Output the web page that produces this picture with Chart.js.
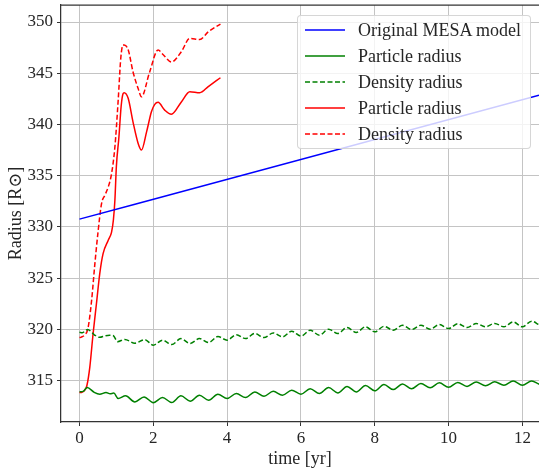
<!DOCTYPE html>
<html>
<head>
<meta charset="utf-8">
<script src="https://cdn.jsdelivr.net/npm/chart.js@4/dist/chart.umd.min.js"></script>
<style>
  html, body { margin: 0; padding: 0; background: #fff; }
  #wrap { position: relative; width: 539px; height: 470px; overflow: hidden; }
  #legend { position: absolute; left: 297px; top: 15px; width: 232px; height: 132px;
            background: rgba(255,255,255,0.8); border: 1px solid rgba(204,204,204,0.8);
            border-radius: 4px; font-family: "Liberation Serif", "DejaVu Serif", serif;
            font-size: 18px; color: #262626; }
  .row { position: absolute; left: 0; height: 26px; width: 100%; }
  .row svg { position: absolute; left: 6px; top: 0; }
  .row span { position: absolute; left: 60px; top: 2px; line-height: 22px; white-space: nowrap; }
</style>
</head>
<body>
<div id="wrap">
  <canvas id="c" width="539" height="470"></canvas>
  <div id="legend"></div>
</div>
<script>
// ---- data ----
const seriesLabels = ["Original MESA model", "Particle radius", "Density radius", "Particle radius", "Density radius"];

const mesaT = [0, 12.45];
const mesaR = [330.76, 342.85];

const greenPartT = [0.0, 0.1, 0.21, 0.4, 0.55, 0.72, 0.83, 0.93, 1.05, 1.25, 1.5, 1.75, 2.0, 2.25, 2.5, 2.75, 3.0, 3.25, 3.5, 3.75, 4.0, 4.25, 4.5, 4.75, 5.0, 5.25, 5.5, 5.75, 6.0, 6.25, 6.5, 6.75, 7.0, 7.25, 7.5, 7.75, 8.0, 8.25, 8.5, 8.75, 9.0, 9.25, 9.5, 9.75, 10.0, 10.25, 10.5, 10.75, 11.0, 11.25, 11.5, 11.75, 12.0, 12.25, 12.45];
const greenPartR = [313.9, 313.95, 314.32, 313.85, 313.67, 313.83, 313.72, 313.78, 313.25, 313.51, 312.92, 313.41, 312.84, 313.35, 312.86, 313.51, 312.99, 313.57, 313.09, 313.67, 313.25, 313.74, 313.35, 313.9, 313.48, 313.95, 313.57, 314.06, 313.67, 314.2, 313.74, 314.32, 313.8, 314.43, 313.9, 314.52, 314.0, 314.62, 314.12, 314.66, 314.2, 314.72, 314.3, 314.78, 314.35, 314.82, 314.43, 314.87, 314.5, 314.88, 314.55, 314.95, 314.55, 314.97, 314.65];

const greenDensT = [0.0, 0.08, 0.22, 0.41, 0.55, 0.69, 0.82, 0.92, 1.03, 1.23, 1.5, 1.77, 2.0, 2.25, 2.5, 2.75, 3.0, 3.25, 3.5, 3.75, 4.0, 4.25, 4.5, 4.75, 5.0, 5.25, 5.5, 5.75, 6.0, 6.25, 6.5, 6.75, 7.0, 7.25, 7.5, 7.75, 8.0, 8.25, 8.5, 8.75, 9.0, 9.25, 9.5, 9.75, 10.0, 10.25, 10.5, 10.75, 11.0, 11.25, 11.5, 11.75, 12.0, 12.25, 12.45];
const greenDensR = [319.72, 319.68, 320.0, 319.45, 319.22, 319.37, 319.43, 319.38, 318.8, 319.02, 318.65, 319.0, 318.46, 318.95, 318.52, 319.1, 318.62, 319.1, 318.72, 319.3, 318.95, 319.48, 319.1, 319.6, 319.2, 319.65, 319.27, 319.82, 319.34, 319.92, 319.43, 320.02, 319.6, 320.18, 319.7, 320.25, 319.76, 320.3, 319.92, 320.4, 319.99, 320.4, 320.02, 320.47, 320.08, 320.55, 320.18, 320.57, 320.25, 320.58, 320.25, 320.73, 320.25, 320.8, 320.45];

const redPartT = [0.0, 0.06, 0.15, 0.2, 0.28, 0.37, 0.46, 0.55, 0.64, 0.78, 0.87, 0.92, 0.96, 1.0, 1.07, 1.13, 1.18, 1.21, 1.32, 1.45, 1.59, 1.68, 1.82, 1.95, 2.04, 2.13, 2.31, 2.49, 2.76, 2.99, 3.26, 3.49, 3.82];
const redPartR = [313.85, 313.85, 314.1, 314.5, 316.3, 319.6, 322.5, 325.45, 327.4, 328.7, 329.5, 330.7, 332.6, 335.9, 338.8, 341.8, 343.0, 343.1, 342.55, 340.26, 338.15, 337.5, 339.3, 341.24, 341.96, 342.16, 341.4, 341.0, 342.2, 343.2, 343.1, 343.7, 344.56];

const redDensT = [0.0, 0.05, 0.14, 0.23, 0.33, 0.41, 0.5, 0.6, 0.69, 0.78, 0.87, 0.96, 1.05, 1.12, 1.18, 1.21, 1.32, 1.45, 1.59, 1.68, 1.9, 2.13, 2.27, 2.49, 2.76, 2.99, 3.26, 3.49, 3.82];
const redDensR = [319.2, 319.25, 319.45, 320.1, 322.85, 326.1, 329.4, 332.3, 333.1, 333.9, 335.2, 337.8, 342.4, 346.5, 347.75, 347.75, 347.3, 345.15, 343.5, 342.7, 345.1, 347.27, 346.8, 346.1, 347.1, 348.4, 348.3, 349.05, 349.8];

const xTicks = [0, 2, 4, 6, 8, 10, 12];
const yTicks = [315, 320, 325, 330, 335, 340, 345, 350];
// ---------------------------------------

const pts = (T, R) => T.map((t, i) => ({ x: t, y: R[i] }));
const BLUE = '#0000ff', GREEN = '#008000', RED = '#ff0000';
const DASH = [5, 2.5];

const series = [
  { label: seriesLabels[0], data: pts(mesaT, mesaR), color: BLUE, dash: [] },
  { label: seriesLabels[1], data: pts(greenPartT, greenPartR), color: GREEN, dash: [] },
  { label: seriesLabels[2], data: pts(greenDensT, greenDensR), color: GREEN, dash: DASH },
  { label: seriesLabels[3], data: pts(redPartT, redPartR), color: RED, dash: [] },
  { label: seriesLabels[4], data: pts(redDensT, redDensR), color: RED, dash: DASH },
];

const FONT = '"Liberation Serif", "DejaVu Serif", serif';
const TXT = '#262626';

const framePlugin = {
  id: 'frame',
  afterDraw(chart) {
    const { ctx, chartArea: a } = chart;
    ctx.save();
    ctx.strokeStyle = '#333';
    ctx.lineWidth = 1.25;
    ctx.beginPath();
    ctx.moveTo(a.left, a.top);
    ctx.lineTo(a.right, a.top);
    ctx.stroke();
    ctx.restore();
  }
};

const zeroPad = sc => { sc.paddingTop = 0; sc.paddingBottom = 0; sc.paddingLeft = 0; sc.paddingRight = 0; };

new Chart(document.getElementById('c'), {
  type: 'line',
  data: {
    datasets: series.map(s => ({
      label: s.label,
      data: s.data,
      borderColor: s.color,
      backgroundColor: s.color,
      borderDash: s.dash,
      borderWidth: 1.5,
      pointRadius: 0,
      fill: false,
      cubicInterpolationMode: 'monotone'
    }))
  },
  options: {
    responsive: false,
    animation: false,
    layout: { padding: { top: 5, right: 0, left: 0, bottom: 0 } },
    plugins: { legend: { display: false }, tooltip: { enabled: false } },
    scales: {
      x: {
        type: 'linear',
        min: -0.5,
        max: 12.45,
        afterBuildTicks: sc => { sc.ticks = xTicks.map(v => ({ value: v })); },
        afterFit: sc => { sc.height = 48; zeroPad(sc); },
        ticks: { font: { family: FONT, size: 17 }, color: TXT, padding: 2, maxRotation: 0,
                 callback: v => String(v) },
        grid: { color: '#c4c4c4', lineWidth: 1, tickColor: '#333', tickLength: 4, drawTicks: true },
        border: { color: '#333', width: 1.25 },
        title: { display: true, text: 'time [yr]', font: { family: FONT, size: 18 }, color: TXT,
                 padding: { top: 0, bottom: 0 } }
      },
      y: {
        type: 'linear',
        min: 310.96,
        max: 351.66,
        afterBuildTicks: sc => { sc.ticks = yTicks.map(v => ({ value: v })); },
        afterFit: sc => { sc.width = 61; zeroPad(sc); },
        ticks: { font: { family: FONT, size: 17 }, color: TXT, padding: 4,
                 callback: v => String(v) },
        grid: { color: '#c4c4c4', lineWidth: 1, tickColor: '#333', tickLength: 4, drawTicks: true },
        border: { color: '#333', width: 1.25 },
        title: { display: true, text: 'Radius [R⊙]', font: { family: FONT, size: 18 }, color: TXT,
                 padding: { top: 5, bottom: 0 } }
      }
    }
  },
  plugins: [framePlugin]
});

// legend (HTML overlay, built from the series)
const lg = document.getElementById('legend');
series.forEach((s, i) => {
  const row = document.createElement('div');
  row.className = 'row';
  row.style.top = (1 + i * 26) + 'px';
  const dash = s.dash.length ? `stroke-dasharray="${s.dash.join(' ')}"` : '';
  row.innerHTML = `<svg width="42" height="26"><line x1="1" y1="13" x2="41" y2="13" stroke="${s.color}" stroke-width="1.5" ${dash}/></svg><span>${s.label}</span>`;
  lg.appendChild(row);
});
</script>
</body>
</html>
